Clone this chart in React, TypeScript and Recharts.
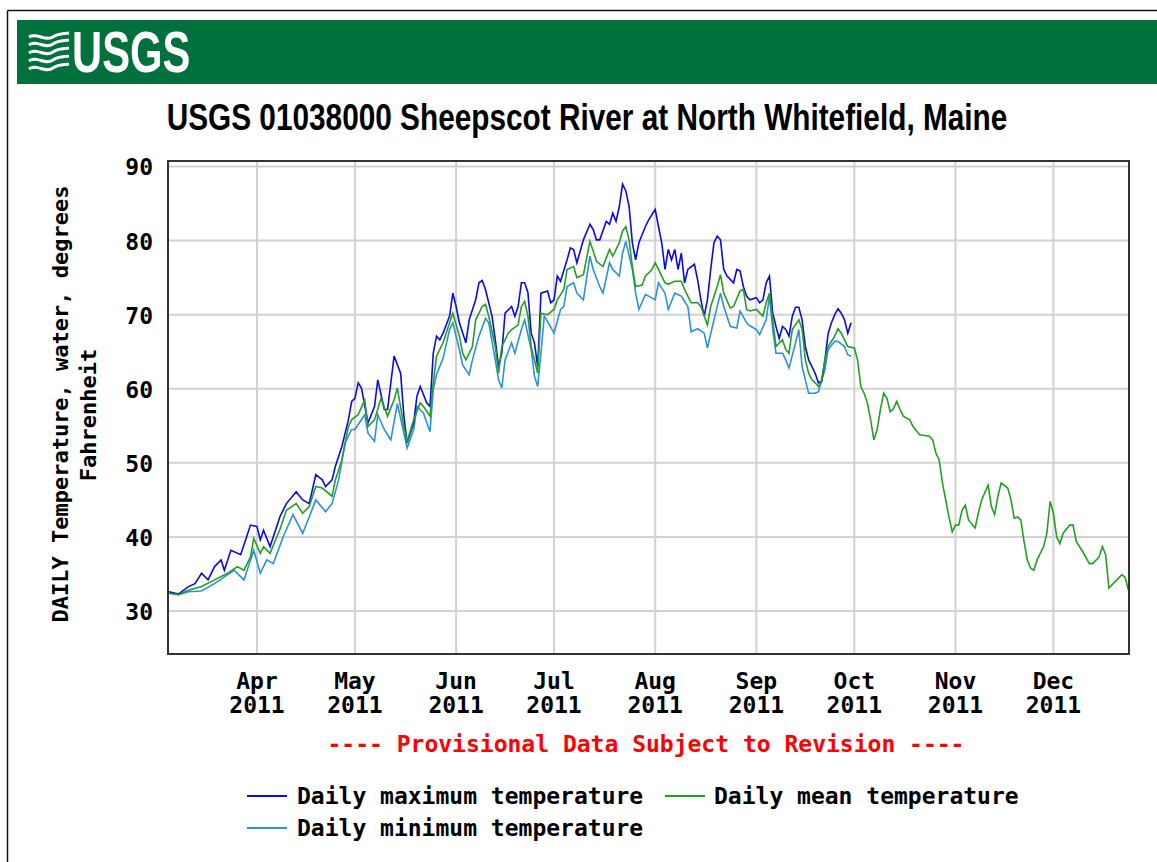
import React from 'react';
import { LineChart, Line, XAxis, YAxis, CartesianGrid } from 'recharts';

// ---- tick values / labels ----
const monthTicks = [91, 121, 152, 182, 213, 244, 274, 305, 335];
const monthLabels = ['Apr', 'May', 'Jun', 'Jul', 'Aug', 'Sep', 'Oct', 'Nov', 'Dec'];
const yearLabel = '2011';
const tempTicks = [30, 40, 50, 60, 70, 80, 90];

// ---- series: [day of year 2011, degrees F] ----
const maxTemp: [number, number][] = [
  [64, 32.6], [67, 32.3], [70, 33.3], [72, 33.7], [74, 35.1], [76, 34.2], [78, 36.0], [80, 36.9], [81, 35.5], [83, 38.2],
  [86, 37.6], [89, 41.6], [91, 41.4], [92, 39.6], [93, 40.9], [95, 38.7], [98, 42.7], [100, 44.5], [103, 46.1], [105, 45.0],
  [107, 44.5], [109, 48.4], [111, 47.7], [112, 46.8], [114, 47.7], [115, 49.5], [117, 52.2], [119, 55.8], [120, 58.3], [121, 58.7],
  [122, 60.8], [123, 60.1], [125, 55.4], [127, 57.6], [128, 61.2], [130, 57.2], [131, 57.2], [133, 64.4], [135, 62.1], [136, 56.3],
  [137, 52.7], [139, 55.4], [140, 59.0], [141, 60.3], [143, 58.1], [144, 57.6], [145, 64.8], [146, 67.1], [147, 66.6], [148, 67.5],
  [150, 69.8], [151, 72.9], [152, 71.1], [153, 68.9], [155, 66.2], [156, 69.3], [158, 72.0], [159, 74.3], [160, 74.6], [161, 73.4],
  [163, 69.8], [164, 66.6], [165, 63.0], [166, 64.8], [167, 70.2], [169, 71.1], [170, 69.8], [171, 71.1], [172, 74.3], [173, 74.3],
  [174, 73.0], [175, 67.5], [176, 66.2], [177, 63.0], [178, 72.9], [180, 73.2], [181, 71.6], [182, 72.0], [183, 75.2], [184, 74.5],
  [186, 77.4], [187, 79.0], [188, 78.8], [189, 77.0], [191, 80.1], [193, 82.2], [194, 81.5], [195, 80.1], [196, 80.1], [198, 82.6],
  [199, 82.2], [200, 83.7], [201, 82.6], [202, 84.6], [203, 87.6], [204, 86.7], [205, 84.6], [206, 79.7], [207, 77.4], [208, 79.7],
  [210, 81.9], [211, 82.8], [213, 84.2], [214, 81.9], [215, 79.7], [216, 76.1], [217, 78.8], [218, 77.4], [219, 78.8], [220, 76.1],
  [221, 78.3], [222, 74.3], [223, 76.1], [225, 76.8], [226, 74.7], [227, 72.0], [228, 69.8], [229, 72.0], [230, 76.1], [231, 79.7],
  [232, 80.6], [233, 80.1], [234, 76.1], [235, 75.2], [237, 74.3], [238, 76.1], [239, 75.9], [240, 73.8], [241, 72.5], [242, 72.0],
  [244, 72.3], [245, 71.6], [246, 72.0], [247, 74.3], [248, 75.2], [249, 70.2], [250, 68.4], [251, 66.8], [252, 68.4], [253, 68.0],
  [254, 67.1], [255, 69.8], [256, 71.0], [257, 71.0], [258, 69.3], [259, 65.7], [260, 63.9], [261, 63.0], [262, 62.1], [263, 60.8],
  [264, 61.0], [265, 63.9], [266, 67.5], [267, 68.9], [268, 70.0], [269, 70.8], [270, 70.2], [271, 69.3], [272, 67.5], [273, 68.9],
];

const meanTemp: [number, number][] = [
  [64, 32.4], [67, 32.2], [70, 32.8], [74, 33.3], [78, 34.2], [82, 35.1], [85, 36.0], [87, 35.5], [89, 37.3], [90, 39.8],
  [92, 37.8], [93, 38.7], [95, 37.8], [98, 41.0], [100, 43.6], [103, 44.5], [105, 43.2], [107, 44.1], [109, 46.8], [111, 46.6],
  [114, 45.5], [115, 47.7], [117, 50.4], [119, 54.9], [120, 55.8], [122, 56.5], [124, 58.5], [125, 54.9], [127, 55.8], [129, 58.7],
  [131, 56.3], [133, 58.5], [134, 60.1], [136, 54.9], [137, 52.9], [139, 55.8], [141, 58.1], [142, 57.6], [144, 56.3], [145, 60.8],
  [146, 64.4], [148, 66.2], [150, 68.9], [151, 70.2], [153, 67.1], [154, 64.8], [155, 63.9], [157, 65.7], [158, 69.3], [160, 71.1],
  [161, 71.4], [162, 69.8], [164, 65.7], [165, 62.1], [166, 65.7], [168, 67.5], [169, 68.0], [171, 68.6], [172, 71.1], [173, 71.8],
  [174, 69.8], [175, 65.7], [177, 62.1], [178, 70.2], [180, 70.0], [182, 70.7], [183, 72.0], [185, 73.4], [186, 76.1], [188, 76.5],
  [189, 75.0], [191, 75.4], [193, 79.9], [194, 78.6], [195, 77.2], [197, 76.5], [199, 78.8], [200, 77.9], [202, 79.7], [203, 81.3],
  [204, 81.9], [205, 80.1], [206, 76.5], [207, 73.8], [209, 74.0], [210, 75.2], [212, 76.1], [213, 77.0], [214, 76.1], [216, 74.3],
  [217, 74.1], [219, 74.5], [221, 74.5], [222, 73.4], [224, 71.6], [226, 71.6], [227, 71.1], [229, 68.6], [230, 71.1], [232, 73.8],
  [233, 75.4], [234, 72.9], [236, 70.9], [237, 71.1], [239, 73.2], [240, 73.4], [241, 70.7], [242, 70.5], [244, 70.7], [246, 69.8],
  [247, 71.6], [248, 72.9], [249, 69.3], [250, 65.7], [251, 66.2], [252, 66.6], [253, 65.3], [254, 64.8], [255, 68.0], [257, 69.3],
  [258, 68.0], [259, 63.9], [260, 62.1], [261, 61.2], [262, 60.8], [263, 60.3], [264, 61.2], [265, 63.9], [266, 65.7], [268, 67.1],
  [269, 68.1], [270, 67.5], [271, 66.6], [272, 65.7], [274, 65.5], [275, 63.9], [276, 60.3], [277, 59.4], [278, 58.1], [279, 55.8],
  [280, 53.1], [281, 54.5], [282, 57.2], [283, 59.4], [284, 58.7], [285, 56.9], [286, 57.3], [287, 58.3], [288, 57.2], [289, 56.3],
  [291, 55.8], [292, 54.9], [294, 53.8], [297, 53.6], [298, 53.1], [299, 51.3], [300, 50.4], [301, 47.3], [302, 45.0], [303, 42.7],
  [304, 40.7], [305, 41.6], [306, 41.6], [307, 43.6], [308, 44.3], [309, 42.3], [311, 41.2], [312, 43.2], [313, 45.0], [315, 47.0],
  [316, 44.1], [317, 43.0], [318, 45.5], [319, 47.3], [321, 46.6], [322, 45.0], [323, 42.5], [324, 42.7], [325, 42.3], [326, 39.4],
  [327, 36.9], [328, 35.8], [329, 35.5], [330, 36.9], [332, 38.7], [333, 40.5], [334, 44.8], [335, 43.2], [336, 40.0], [337, 39.1],
  [338, 40.5], [340, 41.6], [341, 41.6], [342, 39.4], [344, 38.0], [346, 36.4], [347, 36.4], [349, 37.3], [350, 38.7], [351, 37.6],
  [352, 33.1], [354, 34.0], [356, 34.9], [357, 34.5], [358, 32.8],
];

const minTemp: [number, number][] = [
  [64, 32.4], [67, 32.2], [70, 32.6], [74, 32.7], [78, 33.7], [81, 34.6], [84, 35.5], [87, 34.2], [90, 38.2], [92, 35.1],
  [94, 36.9], [96, 36.4], [99, 40.0], [102, 43.0], [105, 40.5], [107, 42.7], [109, 45.0], [112, 43.4], [114, 44.5], [116, 47.7],
  [118, 52.7], [120, 54.5], [121, 54.5], [124, 56.5], [125, 54.0], [127, 52.9], [128, 56.5], [130, 54.5], [132, 53.1], [134, 58.0],
  [136, 54.0], [137, 52.0], [139, 54.5], [140, 57.6], [142, 56.7], [144, 54.2], [145, 59.9], [146, 61.9], [148, 64.1], [150, 68.0],
  [151, 68.9], [153, 65.3], [154, 63.2], [156, 61.9], [157, 63.9], [159, 67.1], [161, 69.5], [162, 68.9], [164, 63.9], [165, 61.2],
  [166, 60.1], [167, 63.9], [169, 66.2], [170, 64.8], [172, 68.0], [173, 69.3], [175, 65.3], [176, 61.7], [177, 60.3], [178, 64.8],
  [179, 69.8], [180, 69.1], [182, 67.5], [184, 70.7], [185, 71.1], [186, 73.8], [188, 74.3], [189, 72.9], [191, 72.0], [193, 77.9],
  [194, 76.1], [196, 73.8], [197, 72.9], [199, 77.0], [200, 76.1], [202, 75.2], [203, 78.3], [204, 79.9], [206, 76.1], [207, 72.9],
  [208, 70.7], [210, 72.7], [211, 72.5], [213, 72.0], [214, 74.3], [216, 72.9], [217, 70.7], [219, 72.9], [221, 72.5], [223, 71.1],
  [224, 67.7], [226, 68.1], [228, 67.5], [229, 65.5], [231, 69.3], [233, 72.9], [234, 71.1], [236, 68.4], [238, 68.2], [239, 70.5],
  [241, 68.9], [242, 68.5], [244, 68.0], [245, 67.3], [247, 69.3], [248, 72.5], [249, 68.0], [250, 64.8], [252, 64.8], [253, 63.9],
  [254, 62.8], [256, 66.2], [257, 68.0], [258, 63.0], [259, 61.2], [260, 59.4], [262, 59.4], [263, 59.6], [265, 62.6], [266, 65.3],
  [268, 66.4], [269, 66.4], [271, 65.7], [272, 64.6], [273, 64.4],
];

const toRows = (s: [number, number][]) => s.map(([day, v]) => ({ day, v }));
const maxRows = toRows(maxTemp);
const meanRows = toRows(meanTemp);
const minRows = toRows(minTemp);

const MONO = '"DejaVu Sans Mono", monospace';
const C_MAX = '#0a0aee';
const C_MEAN = '#22a022';
const C_MIN = '#2b92d8';

function MonthTick(props: any) {
  const { x, y, payload } = props;
  const i = monthTicks.indexOf(payload.value);
  return (
    <g>
      <text x={x} y={y + 35} textAnchor="middle" fontFamily={MONO} fontWeight="bold" fontSize={23} fill="#000">
        {monthLabels[i]}
      </text>
      <text x={x} y={y + 59} textAnchor="middle" fontFamily={MONO} fontWeight="bold" fontSize={23} fill="#000">
        {yearLabel}
      </text>
    </g>
  );
}

function TempTick(props: any) {
  const { x, y, payload } = props;
  return (
    <text x={x} y={y + 9} textAnchor="end" fontFamily={MONO} fontWeight="bold" fontSize={23} fill="#000">
      {payload.value}
    </text>
  );
}

export default function App() {
  return (
    <div style={{ position: 'absolute', left: 0, top: 0, width: 1157, height: 862, background: '#fff', overflow: 'hidden' }}>
      <svg width={1157} height={862} style={{ position: 'absolute', left: 0, top: 0 }}>
        <line x1={7.5} y1={10.5} x2={1157} y2={10.5} stroke="#111" strokeWidth={1.5} />
        <line x1={7.5} y1={10.5} x2={7.5} y2={862} stroke="#111" strokeWidth={1.5} />
        <rect x={17} y={20} width={1140} height={64} fill="#00703c" />
        {/* logo waves */}
        <g stroke="#fff" strokeWidth={3} fill="none">
          <path d="M29,37 C37,32 45,42 53,37 C59,33 64,34 69,33" />
          <path d="M29,45 C37,39 45,50 53,44 C59,40 64,41 69,40" />
          <path d="M29,53 C37,47 45,58 53,52 C59,48 64,49 69,48" />
          <path d="M29,61 C37,55 45,66 53,60 C59,56 64,57 69,56" />
          <path d="M29,69 C37,63 45,74 53,68 C59,64 64,65 69,64" />
        </g>
        <text transform="translate(72,72) scale(0.72,1)" fontFamily='"Liberation Sans", Arial, sans-serif' fontWeight="bold" fontSize={58}
          fill="#fff">USGS</text>
        <text transform="translate(587,130) scale(0.805,1)" textAnchor="middle" fontFamily='"Liberation Sans", Arial, sans-serif' fontWeight="bold"
          fontSize={37} fill="#000">
          USGS 01038000 Sheepscot River at North Whitefield, Maine
        </text>
        <text transform="translate(68,404) rotate(-90)" textAnchor="middle" fontFamily={MONO} fontWeight="bold" fontSize={22} fill="#000">
          DAILY Temperature, water, degrees
        </text>
        <text transform="translate(96,415) rotate(-90)" textAnchor="middle" fontFamily={MONO} fontWeight="bold" fontSize={22} fill="#000">
          Fahrenheit
        </text>
        <text x={646} y={752} textAnchor="middle" fontFamily={MONO} fontWeight="bold" fontSize={23} fill="#ff0000">
          ---- Provisional Data Subject to Revision ----
        </text>
        {/* legend */}
        <line x1={247} y1={796} x2={287} y2={796} stroke={C_MAX} strokeWidth={2} />
        <text x={297} y={804} fontFamily={MONO} fontWeight="bold" fontSize={23} fill="#000">Daily maximum temperature</text>
        <line x1={665} y1={796} x2={705} y2={796} stroke={C_MEAN} strokeWidth={2} />
        <text x={714} y={804} fontFamily={MONO} fontWeight="bold" fontSize={23} fill="#000">Daily mean temperature</text>
        <line x1={247} y1={828} x2={287} y2={828} stroke={C_MIN} strokeWidth={2} />
        <text x={297} y={836} fontFamily={MONO} fontWeight="bold" fontSize={23} fill="#000">Daily minimum temperature</text>
      </svg>
      <div style={{ position: 'absolute', left: 0, top: 0 }}>
        <LineChart width={1157} height={862} margin={{ top: 161, right: 28, bottom: 148, left: 108 }}>
          <CartesianGrid stroke="#d2d2d2" strokeWidth={2} />
          <XAxis
            type="number"
            dataKey="day"
            domain={[63.73, 358.16]}
            ticks={monthTicks}
            allowDataOverflow
            axisLine={false}
            tickLine={false}
            tickSize={0}
            tickMargin={0}
            height={60}
            tick={<MonthTick />}
            interval={0}
          />
          <YAxis
            type="number"
            domain={[24.2, 90.74]}
            ticks={tempTicks}
            allowDataOverflow
            axisLine={false}
            tickLine={false}
            tickSize={0}
            tickMargin={15}
            width={60}
            tick={<TempTick />}
            interval={0}
          />
          <Line data={minRows} dataKey="v" type="linear" stroke={C_MIN} strokeWidth={1.6} dot={false} isAnimationActive={false} />
          <Line data={maxRows} dataKey="v" type="linear" stroke={C_MAX} strokeWidth={1.6} dot={false} isAnimationActive={false} />
          <Line data={meanRows} dataKey="v" type="linear" stroke={C_MEAN} strokeWidth={1.6} dot={false} isAnimationActive={false} />
        </LineChart>
      </div>
      <div style={{ position: 'absolute', left: 167, top: 160, width: 963, height: 495, border: '2px solid #333', boxSizing: 'border-box', pointerEvents: 'none' }} />
    </div>
  );
}
